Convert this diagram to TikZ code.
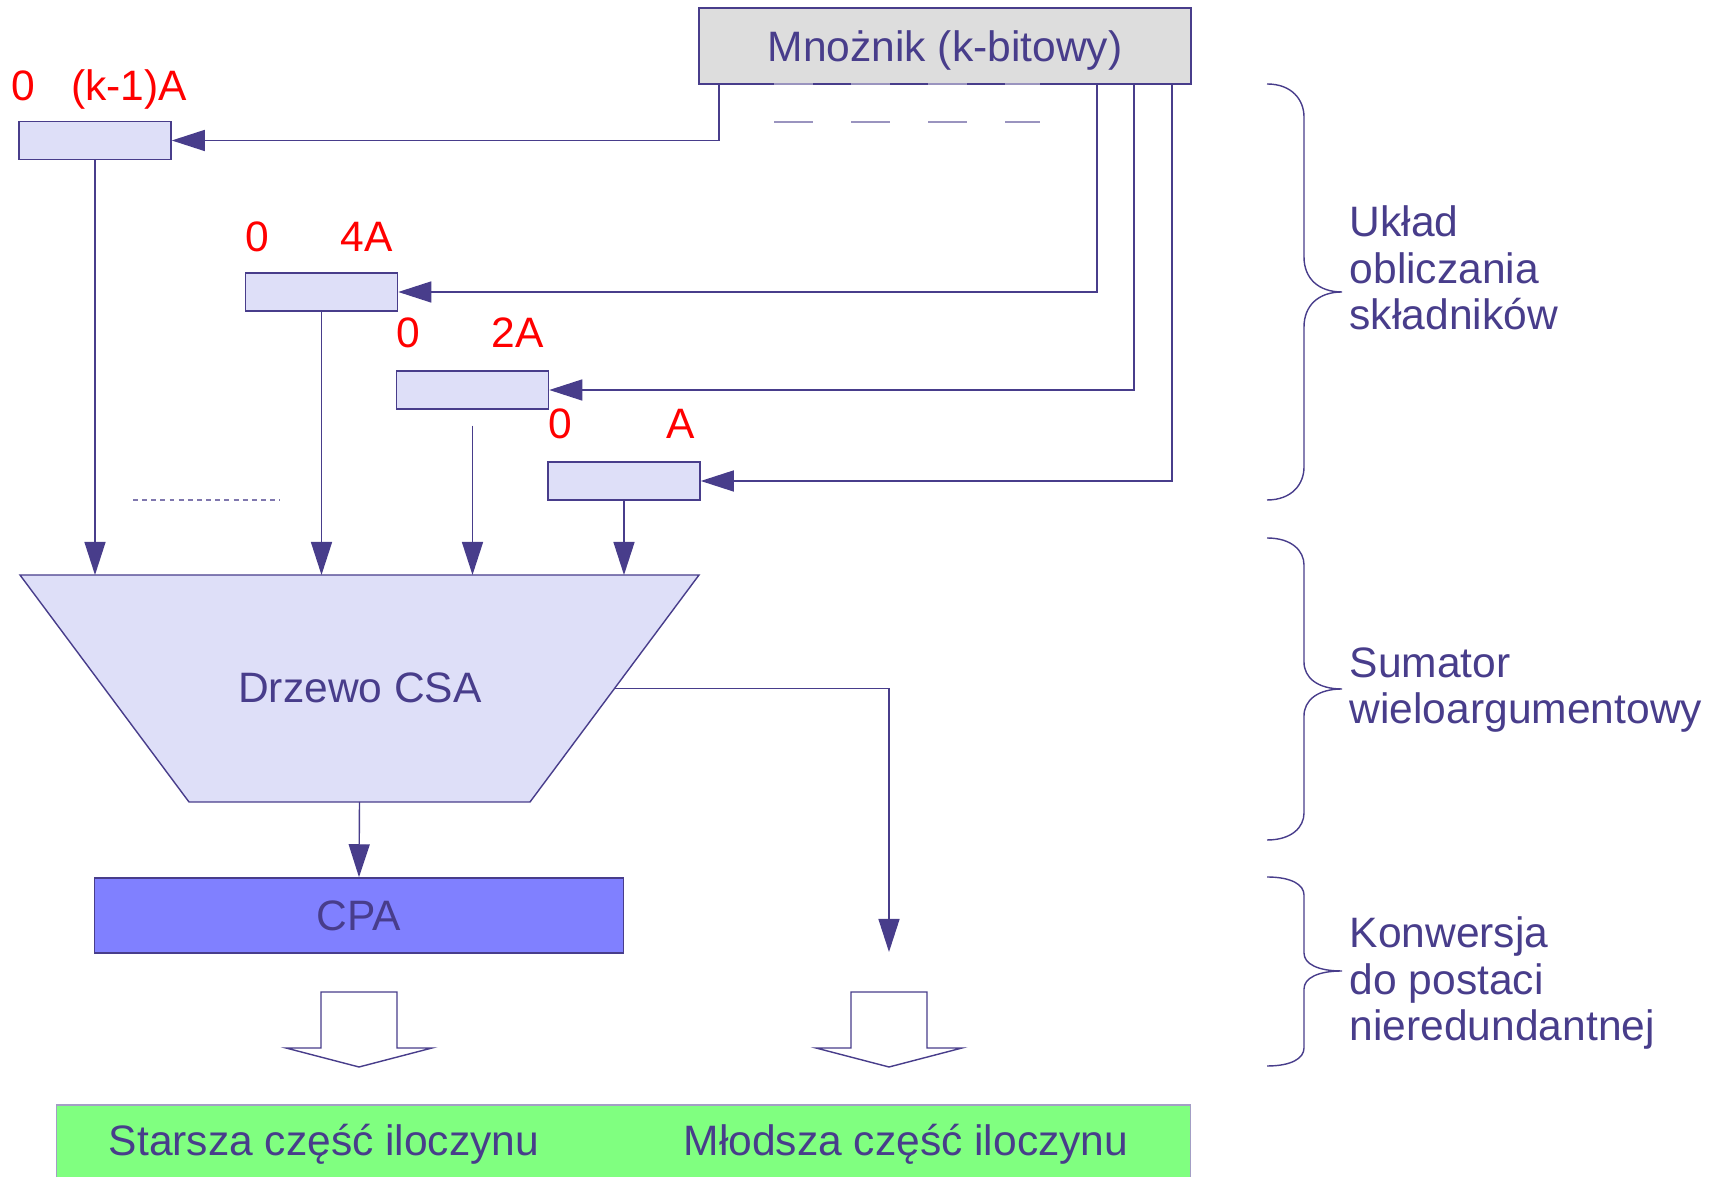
\documentclass[tikz,border=0pt]{standalone}
\usepackage{fontspec}
\setmainfont{Liberation Sans}
\usetikzlibrary{arrows.meta,calc}
\definecolor{granat}{RGB}{72,61,139}
\definecolor{lawenda}{RGB}{222,223,248}
\definecolor{szary}{RGB}{221,221,221}
\definecolor{fiolet}{RGB}{128,128,255}
\definecolor{zielen}{RGB}{128,255,128}
\tikzset{
  rejestr/.style={draw=granat, fill=lawenda, minimum width=1.52cm, minimum height=0.38cm, inner sep=0pt},
  waga/.style={text=red, anchor=base, inner sep=0pt},
  napis/.style={text=granat, anchor=base, inner sep=0pt},
  opis/.style={text=granat, anchor=base west, inner sep=0pt, align=left},
  strzalka/.style={draw=granat, -{Triangle[length=0.33cm,width=0.21cm]}},
  klamra/.style={draw=granat},
  przerywana/.style={draw=granat!55, dash pattern=on 0.39cm off 0.38cm},
}
\begin{document}
\begin{tikzpicture}[x=0.01cm, y=-0.01cm, line width=0.4pt, font=\fontsize{12.1}{13.3}\selectfont]
\useasboundingbox (0,0) rectangle (1715,1177);

% mnożnik
\node[draw=granat, fill=szary, minimum width=4.92cm, minimum height=0.76cm, inner sep=0pt] (mnoznik) at (945,46) {};
\node[napis] (mnoznikT) at (945,62) {Mnożnik (k-bitowy)};
\coordinate (w1) at (719,84);
\coordinate (w2) at (1097,84);
\coordinate (w3) at (1134,84);
\coordinate (w4) at (1172,84);
\draw[przerywana] (774,84) -- (1040,84);
\draw[przerywana] (774,122) -- (1040,122);

% rejestry składników
\node[rejestr] (r1) at (95,140.5) {};
\node[rejestr] (r2) at (321.5,292) {};
\node[rejestr] (r3) at (472.5,390) {};
\node[rejestr] (r4) at (624,481) {};

% wagi
\node[waga] (z1) at (23,101) {0};
\node[waga] (k1) at (129,101) {(k-1)A};
\node[waga] (z2) at (257.5,252) {0};
\node[waga] (k2) at (366.5,252) {4A};
\node[waga] (z3) at (408.5,348) {0};
\node[waga] (k3) at (518,348) {2A};
\node[waga] (z4) at (560,439) {0};
\node[waga] (k4) at (681,439) {A};

% bity mnożnika
\draw[strzalka] (w1) |- (r1.east);
\draw[strzalka] (w2) |- (r2.east);
\draw[strzalka] (w3) |- (r3.east);
\draw[strzalka] (w4) |- (r4.east);

% drzewo CSA
\coordinate (t1) at (20,575);
\coordinate (t2) at (699,575);
\coordinate (t3) at (530,802);
\coordinate (t4) at (189,802);
\draw[draw=granat, fill=lawenda] (t1) -- (t2) -- (t3) -- (t4) -- cycle;
\node[napis] (drzewo) at (360,703) {Drzewo CSA};

\draw[strzalka] (r1.south) -- (r1.south |- t1);
\draw[strzalka] (r2.south) -- (r2.south |- t1);
\draw[strzalka] ([yshift=-0.16cm]r3.south) -- (r3.south |- t1);
\draw[strzalka] (r4.south) -- (r4.south |- t1);
\draw[draw=granat!70, dash pattern=on 1.4pt off 1.2pt] (133,500) -- (280,500);

% wyjście młodszej części
\coordinate (wyj) at ($(t2)!0.5!(t3)$);
\coordinate (mlodsza) at (889,952);
\draw[strzalka] (wyj) -| (mlodsza);

% CPA
\node[draw=granat, fill=fiolet, minimum width=5.29cm, minimum height=0.75cm, inner sep=0pt, text=granat] (cpa) at (359,915.5) {CPA};
\draw[strzalka] ($(t3)!0.5!(t4)$) -- (cpa.north);

% puste strzałki
\draw[draw=granat, fill=white] (321,992) -- (321,1048) -- (286,1048) -- (359,1067) -- (432,1048) -- (397,1048) -- (397,992) -- cycle;
\draw[draw=granat, fill=white] (851,992) -- (851,1048) -- (816,1048) -- (889,1067) -- (962,1048) -- (927,1048) -- (927,992) -- cycle;

% iloczyn
\node[draw=granat!50, fill=zielen, minimum width=11.33cm, minimum height=0.9cm, inner sep=0pt] (wynik) at (623.5,1150) {};
\node[napis] (starsza) at (324,1156) {Starsza część iloczynu};
\node[napis] (mlodszaT) at (906,1156) {Młodsza część iloczynu};

% klamry
\draw[klamra] (1267,84) .. controls (1292,84) and (1304,100) .. (1304,117) -- (1304,257)
  .. controls (1304,278) and (1318,292) .. (1342,292) .. controls (1318,292) and (1304,306) .. (1304,327)
  -- (1304,467) .. controls (1304,484) and (1292,500) .. (1267,500);
\draw[klamra] (1267,538) .. controls (1292,538) and (1304,551) .. (1304,565) -- (1304,662)
  .. controls (1304,678) and (1318,689) .. (1342,689) .. controls (1318,689) and (1304,700) .. (1304,716)
  -- (1304,813) .. controls (1304,827) and (1292,840) .. (1267,840);
\draw[klamra] (1267,877) .. controls (1292,877) and (1304,885) .. (1304,895) -- (1304,953)
  .. controls (1304,964) and (1318,971) .. (1342,971) .. controls (1318,971) and (1304,978) .. (1304,989)
  -- (1304,1048) .. controls (1304,1058) and (1292,1066) .. (1267,1066);

\node[opis] (uklad) at (1349,330) {Układ\\obliczania\\składników};
\node[opis] (sumator) at (1349,724) {Sumator\\wieloargumentowy};
\node[opis] (konwersja) at (1349,1041) {Konwersja\\do postaci\\nieredundantnej};
\end{tikzpicture}
\end{document}
